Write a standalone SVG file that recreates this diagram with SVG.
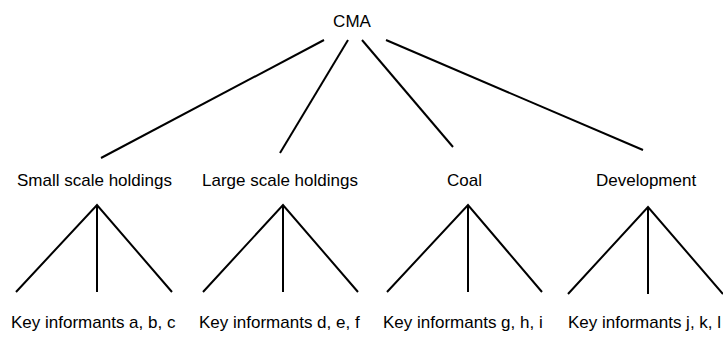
<svg xmlns="http://www.w3.org/2000/svg" width="723" height="341" viewBox="0 0 723 341">
  <style>
    text { font-family: "Liberation Sans", Arial, sans-serif; font-size: 17px; fill: #000; }
    .edge { stroke: #000; stroke-width: 2; fill: none; stroke-linecap: butt; }
  </style>
  <rect width="723" height="341" fill="#fff"/>

  <!-- connectors -->
  <g id="connectors">
    <line class="edge" x1="324" y1="40" x2="101" y2="158"/>
    <line class="edge" x1="348" y1="40" x2="280" y2="153"/>
    <line class="edge" x1="362" y1="40" x2="453" y2="147"/>
    <line class="edge" x1="386" y1="40" x2="643" y2="150"/>

    <path class="edge" d="M16,292 L97,205 L172,292 M97,205 L97,292"/>
    <path class="edge" d="M203,292 L283,205 L358,292 M283,205 L283,292"/>
    <path class="edge" d="M387,292 L468,205 L542,292 M468,205 L468,292"/>
    <path class="edge" d="M568,294 L648,207 L723,294 M648,207 L648,294"/>
  </g>

  <!-- root -->
  <g id="cma"><text x="352" y="27" text-anchor="middle">CMA</text></g>

  <!-- sectors -->
  <g id="small-scale"><text x="17" y="186">Small scale holdings</text></g>
  <g id="large-scale"><text x="202" y="186">Large scale holdings</text></g>
  <g id="coal"><text x="447" y="186">Coal</text></g>
  <g id="development"><text x="596" y="186">Development</text></g>

  <!-- informants -->
  <g id="informants-abc"><text x="11" y="328">Key informants a, b, c</text></g>
  <g id="informants-def"><text x="199" y="328">Key informants d, e, f</text></g>
  <g id="informants-ghi"><text x="383" y="328">Key informants g, h, i</text></g>
  <g id="informants-jkl"><text x="568" y="328">Key informants j, k, l</text></g>
</svg>
